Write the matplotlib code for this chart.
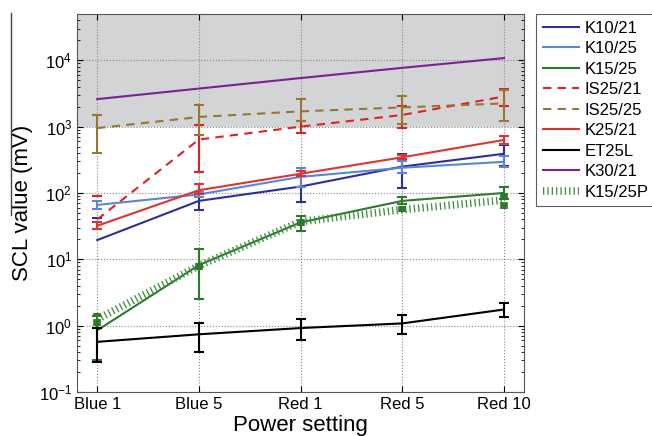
import numpy as np
import matplotlib
matplotlib.use("Agg")
import matplotlib.pyplot as plt
from matplotlib.lines import Line2D

plt.rcParams["font.family"] = ["Liberation Sans", "DejaVu Sans"]
plt.rcParams["mathtext.default"] = "regular"

settings = ["Blue 1", "Blue 5", "Red 1", "Red 5", "Red 10"]
nan = np.nan

# center, lower bound, upper bound per series (mV); nan = bound not shown
k10_21 = [19.5, 76, 125, 250, 390]
k10_21_lo = [nan, 56, 73, 120, 255]
k10_21_hi = [42, 104, 178, 385, 530]

k10_25 = [66, 95, 175, 240, 295]
k10_25_lo = [57, 88, 125, 200, 245]
k10_25_hi = [76, 103, 240, 300, 365]

k15_25 = [0.85, 8.2, 36, 76, 100]
k15_25_lo = [0.30, 2.5, 27, 68, 80]
k15_25_hi = [1.42, 14.5, 45, 87, 122]

is25_21 = [40, 640, 1000, 1500, 2850]
is25_21_lo = [nan, 210, 800, 960, 2050]
is25_21_hi = [90, 1070, 1230, 2050, 3650]

is25_25 = [950, 1400, 1700, 1950, 2240]
is25_25_lo = [400, 760, 1230, 1110, 1230]
is25_25_hi = [1480, 2100, 2650, 2850, 3530]

k25_21 = [32, 110, 195, 345, 630]
k25_21_lo = [29, 95, 180, 325, 550]
k25_21_hi = [36, 135, 215, 370, 735]

et25l = [0.57, 0.74, 0.92, 1.08, 1.75]
et25l_lo = [0.28, 0.40, 0.60, 0.76, 1.37]
et25l_hi = [0.93, 1.10, 1.27, 1.47, 2.20]

k30_21 = [2600, 3750, 5400, 7700, 10800]

k15_25p = [1.25, 8.0, 37, 56, 78]
k15_25p_lo = [1.0, 7.0, 31.5, 51, 57]
k15_25p_hi = [1.55, 9.3, 43, 63, 107]

x = np.arange(1, len(settings) + 1)

fig = plt.figure(figsize=(6.52, 4.36), dpi=100)
ax = fig.add_axes([0.118, 0.101, 0.686, 0.867])
ax.set_yscale("log")
ax.set_xlim(0.8, 5.2)
ax.set_ylim(0.1, 5e4)
ax.axhspan(1e3, 5e4, color="#d3d4d6", zorder=0, lw=0)


def series(yc, lo, hi, color, label, ls="-"):
    yc = np.asarray(yc, float)
    ax.plot(x, yc, color=color, lw=1.5, ls=ls, dashes=(4, 3) if ls == "--" else (None, None),
            label=label, zorder=3)
    if lo is None:
        return
    err = np.vstack([yc - np.asarray(lo, float), np.asarray(hi, float) - yc])
    ax.errorbar(x, yc, yerr=err, fmt="none", ecolor=color, elinewidth=1.5,
                capsize=3.5, capthick=1.5, zorder=3)


series(k10_21, k10_21_lo, k10_21_hi, "#2e2f9a", "K10/21")
series(k10_25, k10_25_lo, k10_25_hi, "#5b86d6", "K10/25")
series(k15_25, k15_25_lo, k15_25_hi, "#2d7a2d", "K15/25")
series(is25_21, is25_21_lo, is25_21_hi, "#dd2222", "IS25/21", ls="--")
series(is25_25, is25_25_lo, is25_25_hi, "#987530", "IS25/25", ls="--")
series(k25_21, k25_21_lo, k25_21_hi, "#e03232", "K25/21")
series(et25l, et25l_lo, et25l_hi, "black", "ET25L")
series(k30_21, None, None, "#7a2390", "K30/21")

# thick dotted series
pc = "#3e8e3e"
ax.plot(x, k15_25p, color=pc, lw=5.5, dashes=(0.17, 0.4), dash_capstyle="butt",
        label="K15/25P", zorder=4)
yc = np.asarray(k15_25p, float)
eb = ax.errorbar(x, yc, yerr=np.vstack([yc - np.asarray(k15_25p_lo), np.asarray(k15_25p_hi) - yc]),
                 fmt="none", ecolor="#2d7a2d", elinewidth=5.5, capsize=0, zorder=4)
eb.lines[2][0].set_linestyle((0, (0.9, 0.3)))
eb.lines[2][0].set_capstyle("butt")

ax.set_xticks(x)
ax.set_xticklabels(settings)
ax.grid(True, which="major", ls=":", color="#888888", lw=0.8, zorder=1)
ax.tick_params(which="both", direction="in", top=True, right=True, labelsize=12, colors="black")
ax.tick_params(which="major", length=4)
ax.tick_params(which="minor", length=2)
ax.tick_params(axis="x", which="minor", top=False, bottom=False)
for sp in ax.spines.values():
    sp.set_color("#555555")
ax.set_xlabel("Power setting", fontsize=16, labelpad=2)
ax.set_ylabel("SCL value (mV)", fontsize=16, labelpad=4)

leg = fig.legend(loc="upper left", bbox_to_anchor=(0.822, 0.968), fontsize=12,
                 frameon=True, fancybox=False, borderaxespad=0, handlelength=2.2,
                 labelspacing=0.33, handletextpad=0.3, borderpad=0.4)
leg.get_frame().set_edgecolor("#333333")
leg.get_frame().set_linewidth(0.8)

fig.add_artist(Line2D([0.017, 0.017], [0.970, 0.507], color="#444444", lw=1.0,
                      transform=fig.transFigure))

fig.savefig("out.png", dpi=100)
